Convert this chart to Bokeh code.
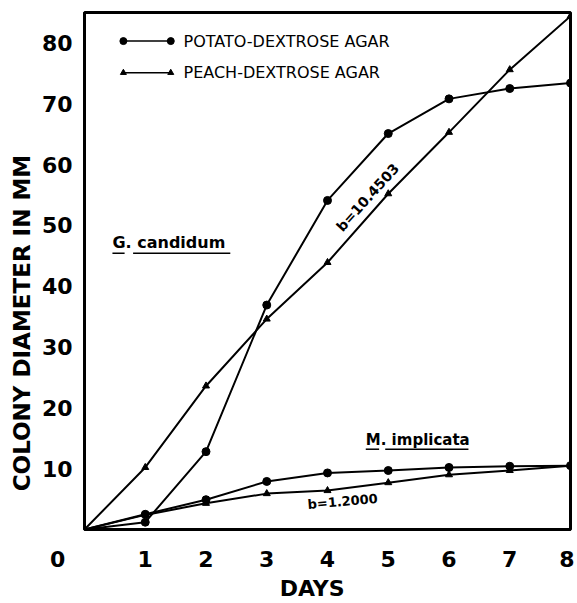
from bokeh.plotting import figure
from bokeh.models import Label, FixedTicker, Range1d
from bokeh.embed import file_html
from bokeh.resources import INLINE

days = [0, 1, 2, 3, 4, 5, 6, 7, 8]
g_potato = [0, 1.2, 12.8, 36.9, 54.1, 65.1, 70.8, 72.5, 73.4]
g_peach = [0, 10.2, 23.6, 34.6, 43.9, 55.2, 65.3, 75.6, 84.4]
m_potato = [0, 2.5, 4.9, 7.9, 9.3, 9.7, 10.2, 10.4, 10.5]
m_peach = [0, 2.4, 4.3, 5.9, 6.4, 7.7, 9.0, 9.7, 10.5]
x_ticks = [0, 1, 2, 3, 4, 5, 6, 7, 8]
y_ticks = [10, 20, 30, 40, 50, 60, 70, 80]
legend_names = ["POTATO-DEXTROSE AGAR", "PEACH-DEXTROSE AGAR"]

FONT = "DejaVu Sans"
NB = "\u00a0"

p = figure(width=574, height=603, output_backend="svg", toolbar_location=None,
           x_range=Range1d(0, 8), y_range=Range1d(0, 85),
           min_border_left=84, min_border_right=4, min_border_top=12, min_border_bottom=73)
p.xgrid.visible = False
p.ygrid.visible = False
p.outline_line_color = "black"
p.outline_line_width = 3
p.background_fill_color = "white"
p.border_fill_color = "white"

for ax in (p.xaxis[0], p.yaxis[0]):
    ax.axis_line_color = "black"
    ax.axis_line_width = 3
    ax.major_tick_line_color = None
    ax.minor_tick_line_color = None
    ax.major_label_text_font = FONT
    ax.major_label_text_font_style = "bold"
    ax.major_label_text_font_size = "22px"
    ax.major_label_text_color = "black"
    ax.axis_label_text_font = FONT
    ax.axis_label_text_font_style = "bold"
    ax.axis_label_text_font_size = "22px"
    ax.axis_label_text_color = "black"

p.xaxis.ticker = FixedTicker(ticks=x_ticks)
p.xaxis.major_label_overrides = {0: "0" + NB * 7}
p.yaxis.ticker = FixedTicker(ticks=y_ticks)
p.xaxis.major_label_standoff = 11
p.yaxis.major_label_standoff = 6
p.yaxis.axis_label = NB.join(["COLONY", "DIAMETER", "IN", "MM"]) + NB * 13
p.yaxis.axis_label_text_font_size = "23px"
p.yaxis.axis_label_standoff = 4
p.xaxis.axis_label = "DAYS" + NB * 4
p.xaxis.axis_label_standoff = 1

# data lines
for ys in (g_potato, g_peach, m_potato, m_peach):
    p.line(days, ys, line_color="black", line_width=2)
for ys in (g_potato, m_potato):
    p.scatter(days[1:], ys[1:], marker="circle", size=8, fill_color="black", line_color="black")
for ys in (g_peach, m_peach):
    p.scatter(days[1:], ys[1:], marker="triangle", size=7, fill_color="black", line_color="black")

# legend (drawn manually)
leg_x0, leg_x1 = 0.64, 1.42
for name, yy, mk in zip(legend_names, [80.3, 75.1], ["circle", "triangle"]):
    p.segment(x0=[leg_x0], y0=[yy], x1=[leg_x1], y1=[yy], line_color="black", line_width=1.5)
    p.scatter([leg_x0, leg_x1], [yy, yy], marker=mk, size=7 if mk == "circle" else 6,
              fill_color="black", line_color="black")
    p.add_layout(Label(x=1.63, y=yy, text=name, text_font=FONT, text_font_size="16px",
                       text_baseline="middle", text_align="left", text_color="black"))

# species labels
p.add_layout(Label(x=0.46, y=47.2, text="G. candidum", text_font=FONT, text_font_style="bold",
                   text_font_size="16px", text_baseline="middle", text_color="black"))
p.segment(x0=[0.46, 0.80], y0=[45.4, 45.4], x1=[0.66, 2.4], y1=[45.4, 45.4], line_color="black", line_width=1.5)
p.add_layout(Label(x=4.63, y=14.75, text="M. implicata", text_font=FONT, text_font_style="bold",
                   text_font_size="15px", text_baseline="middle", text_color="black"))
p.segment(x0=[4.63, 4.95], y0=[13.2, 13.2], x1=[4.85, 6.32], y1=[13.2, 13.2], line_color="black", line_width=1.5)

# slope annotations
p.add_layout(Label(x=4.66, y=54.6, text="b=10.4503", text_font=FONT, text_font_style="bold",
                   text_font_size="14px", text_align="center", text_baseline="middle",
                   angle=48, angle_units="deg", text_color="black"))
p.add_layout(Label(x=4.25, y=4.6, text="b=1.2000", text_font=FONT, text_font_style="bold",
                   text_font_size="13px", text_align="center", text_baseline="middle",
                   angle=5, angle_units="deg", text_color="black"))

open("out.html", "w").write(file_html(p, INLINE))
